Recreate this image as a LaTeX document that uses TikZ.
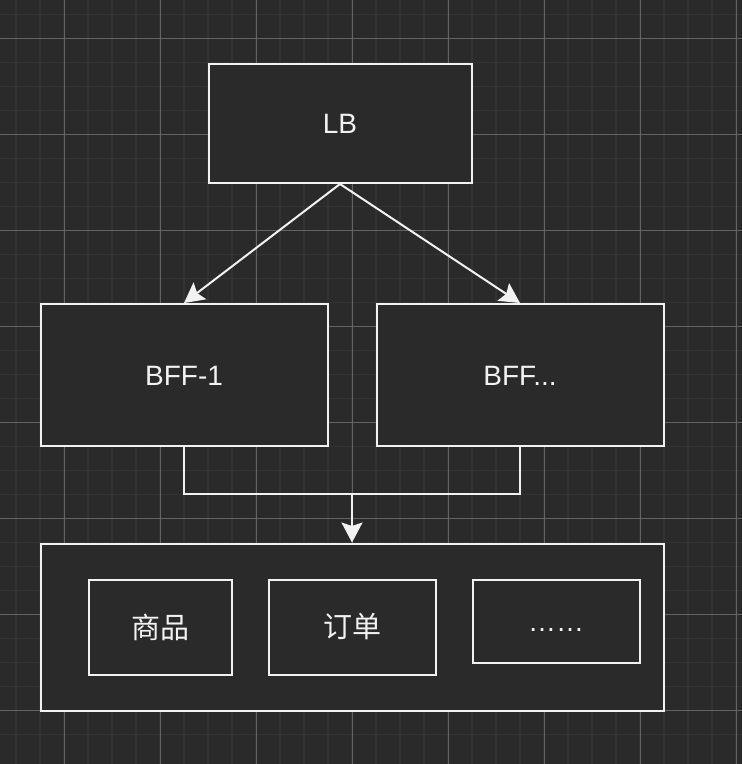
\documentclass[tikz,border=0pt]{standalone}
\usepackage{fontspec}
\setmainfont{Liberation Sans}
\newfontfamily\cjk{Noto Sans CJK SC}
\usetikzlibrary{arrows.meta}
\definecolor{bg}{HTML}{2A2A2A}
\definecolor{minorgrid}{HTML}{333333}
\definecolor{majorgrid}{HTML}{646464}
\definecolor{fg}{HTML}{F2F2F2}
\begin{document}
\begin{tikzpicture}[x=1pt,y=-1pt,
  box/.style={draw=fg,line width=2pt,fill=bg,inner sep=0pt},
  lbl/.style={text=fg,font=\fontsize{28}{33}\selectfont},
  cjklbl/.style={text=fg,font=\cjk\fontsize{29}{34}\selectfont},
  conn/.style={draw=fg,line width=2pt},
  arr/.style={conn,-{Stealth[length=20pt,width=21pt,inset=3.5pt]}}]
\fill[bg] (0,0) rectangle (742,764);
\useasboundingbox (0,0) rectangle (742,764);
% grid
\foreach \i in {0,...,30} {
  \draw[minorgrid,line width=1.5pt] (16+24*\i,0) -- (16+24*\i,764);
  \draw[minorgrid,line width=1.5pt] (0,14.7+24*\i) -- (742,14.7+24*\i);
}
\foreach \i in {0,...,7} {
  \draw[majorgrid,line width=1pt] (64+96*\i,0) -- (64+96*\i,764);
  \draw[majorgrid,line width=1pt] (0,38.7+96*\i) -- (742,38.7+96*\i);
}
% boxes
\node[box,lbl,minimum width=263pt,minimum height=119pt,text height=20pt,text depth=0pt] (lb) at (340,123.5) {LB};
\node[box,lbl,minimum width=287pt,minimum height=142pt,text height=20pt,text depth=0pt] (bff1) at (184,375) {BFF-1};
\node[box,lbl,minimum width=287pt,minimum height=142pt,text height=20pt,text depth=0pt] (bffn) at (520,375) {BFF...};
\node[box,minimum width=623pt,minimum height=167pt] (cont) at (352,627) {};
\node[box,cjklbl,minimum width=143pt,minimum height=95pt] (goods) at (160,627) {商品};
\node[box,cjklbl,minimum width=167pt,minimum height=95pt] (order) at (352,627) {订单};
\node[box,lbl,minimum width=167pt,minimum height=83pt,text height=20pt,text depth=0pt] (more) at (556,621) {……};
% connectors
\draw[arr] (lb.south) -- (bff1.north);
\draw[arr] (lb.south) -- (bffn.north);
\draw[conn] (bff1.south) -- (184,494) -- (520,494) -- (bffn.south);
\coordinate (junc) at (352,494);
\draw[arr] (junc) -- (cont.north);
\end{tikzpicture}
\end{document}
